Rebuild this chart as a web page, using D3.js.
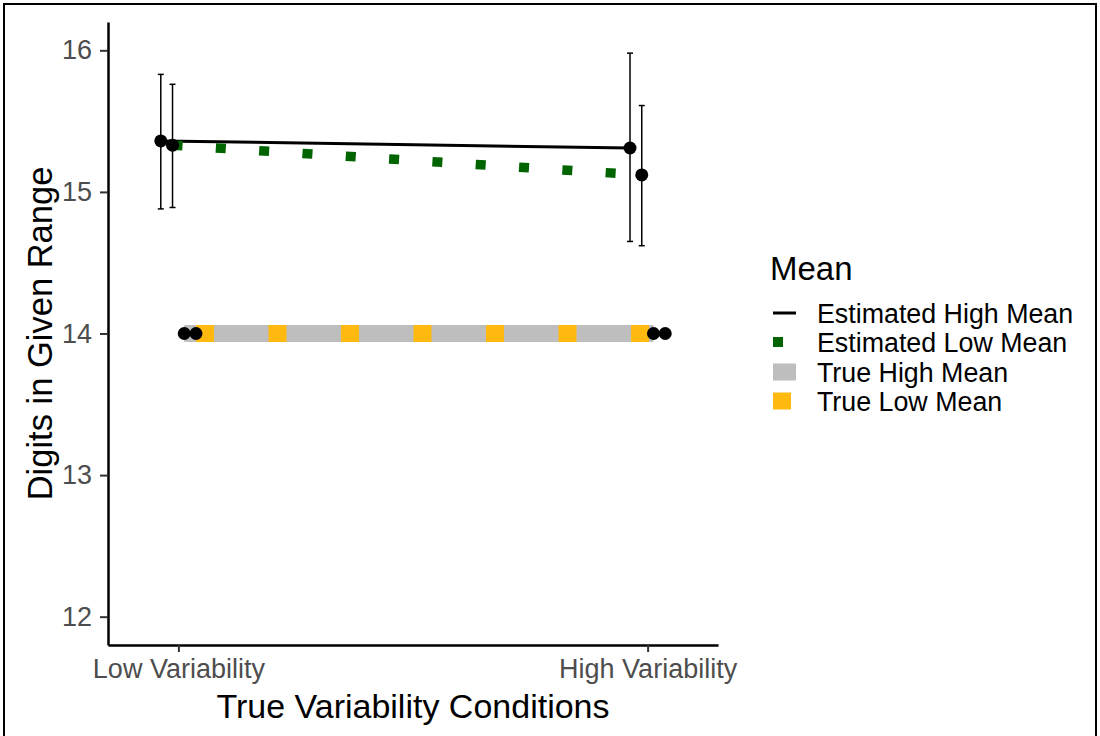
<!DOCTYPE html>
<html>
<head>
<meta charset="utf-8">
<script src="https://cdn.jsdelivr.net/npm/d3@7"></script>
<style>
  body { margin: 0; background: #fff; }
  svg { display: block; font-family: "Liberation Sans", Arial, sans-serif; }
</style>
</head>
<body>
<svg id="chart" width="1100" height="736"></svg>
<script>
// --- data ---
const conditions = [1, 2];
const conditionLabels = ["Low Variability", "High Variability"];
const yTicks = [12, 13, 14, 15, 16];

const seriesNames = ["Estimated High Mean", "Estimated Low Mean", "True High Mean", "True Low Mean"];
const estHighMean = [15.36, 15.31];
const estHighLower = [14.88, 14.65];
const estHighUpper = [15.83, 15.98];
const estLowMean = [15.33, 15.12];
const estLowLower = [14.89, 14.62];
const estLowUpper = [15.76, 15.61];
const trueHighMean = [14, 14];
const trueLowMean = [14, 14];

function drawChart() {
    const svg = d3.select("#chart");

    const plot = { left: 108, right: 718, top: 22, bottom: 645 };

    // outer frame
    svg.append("rect")
        .attr("x", 4).attr("y", 4)
        .attr("width", 1092).attr("height", 740)
        .attr("fill", "none")
        .attr("stroke", "#000")
        .attr("stroke-width", 2);

    const x = d3.scaleLinear().domain([0.85, 2.15]).range([plot.left, plot.right]);
    const y = d3.scaleLinear().domain([11.8, 16.2]).range([plot.bottom, plot.top]);

    // dodge offsets for the four groups
    const dodge = d3.scalePoint().domain(seriesNames).range([-0.0375, 0.0375]);

    const series = [
        { name: seriesNames[0], mean: estHighMean, lo: estHighLower, hi: estHighUpper,
          color: "#000", width: 3, dash: null },
        { name: seriesNames[1], mean: estLowMean, lo: estLowLower, hi: estLowUpper,
          color: "#006400", width: 9.5, dash: "10 33.4" },
        { name: seriesNames[2], mean: trueHighMean, color: "#BEBEBE", width: 17, dash: null },
        { name: seriesNames[3], mean: trueLowMean, color: "#FFB90F", width: 17, dash: "18 54.5" }
    ];

    series.forEach(s => {
        s.points = conditions.map((c, i) => ({ x: c + dodge(s.name), y: s.mean[i], lo: s.lo ? s.lo[i] : null, hi: s.hi ? s.hi[i] : null }));
    });

    const line = d3.line().x(d => x(d.x)).y(d => y(d.y));

    // lines
    svg.append("g").selectAll("path")
        .data(series)
        .enter()
        .append("path")
        .attr("d", d => line(d.points))
        .attr("fill", "none")
        .attr("stroke", d => d.color)
        .attr("stroke-width", d => d.width)
        .attr("stroke-dasharray", d => d.dash);

    // error bars
    const errData = series.filter(s => s.lo).flatMap(s => s.points);
    const eb = svg.append("g").attr("stroke", "#000").attr("stroke-width", 1.5);
    eb.selectAll(".ev").data(errData).enter().append("line")
        .attr("x1", d => x(d.x)).attr("x2", d => x(d.x))
        .attr("y1", d => y(d.lo)).attr("y2", d => y(d.hi));
    eb.selectAll(".ct").data(errData).enter().append("line")
        .attr("x1", d => x(d.x) - 3).attr("x2", d => x(d.x) + 3)
        .attr("y1", d => y(d.hi)).attr("y2", d => y(d.hi));
    eb.selectAll(".cb").data(errData).enter().append("line")
        .attr("x1", d => x(d.x) - 3).attr("x2", d => x(d.x) + 3)
        .attr("y1", d => y(d.lo)).attr("y2", d => y(d.lo));

    // points
    svg.append("g").selectAll("circle")
        .data(series.flatMap(s => s.points))
        .enter()
        .append("circle")
        .attr("cx", d => x(d.x))
        .attr("cy", d => y(d.y))
        .attr("r", 6.5)
        .attr("fill", "#000");

    // axes
    const yAxis = d3.axisLeft(y).tickValues(yTicks).tickFormat(d3.format("d"))
        .tickSize(8).tickSizeOuter(0).tickPadding(8);
    const xAxis = d3.axisBottom(x).tickValues(conditions)
        .tickFormat((d, i) => conditionLabels[i]).tickSize(7).tickSizeOuter(0).tickPadding(7);

    const gy = svg.append("g").attr("transform", `translate(${plot.left},0)`).call(yAxis);
    const gx = svg.append("g").attr("transform", `translate(0,${plot.bottom})`).call(xAxis);

    [gx, gy].forEach(g => {
        g.select(".domain").attr("stroke", "#000").attr("stroke-width", 2.5);
        g.selectAll(".tick line").attr("stroke", "#333").attr("stroke-width", 2);
        g.selectAll(".tick text")
            .attr("fill", "#4D4D4D")
            .style("font-size", "27px")
            .style("font-family", "'Liberation Sans', Arial, sans-serif");
    });

    // axis titles
    svg.append("text")
        .attr("x", (plot.left + plot.right) / 2)
        .attr("y", 718)
        .attr("text-anchor", "middle")
        .style("font-size", "34px")
        .text("True Variability Conditions");

    svg.append("text")
        .attr("transform", `translate(52,${(plot.top + plot.bottom) / 2}) rotate(-90)`)
        .attr("text-anchor", "middle")
        .style("font-size", "34.5px")
        .text("Digits in Given Range");

    // legend
    const legend = svg.append("g").attr("transform", "translate(770,0)");
    legend.append("text")
        .attr("x", 0).attr("y", 280)
        .style("font-size", "33px")
        .text("Mean");

    const rowY = [313, 342, 372, 401];
    const keys = legend.selectAll(".key")
        .data(series)
        .enter()
        .append("g")
        .attr("transform", (d, i) => `translate(0,${rowY[i]})`);

    keys.each(function(d, i) {
        const g = d3.select(this);
        if (i === 0) {
            g.append("line").attr("x1", 3).attr("x2", 26).attr("y1", 0).attr("y2", 0)
                .attr("stroke", d.color).attr("stroke-width", 3);
        } else if (i === 1) {
            g.append("rect").attr("x", 3).attr("y", -5).attr("width", 10).attr("height", 10)
                .attr("fill", d.color);
        } else if (i === 2) {
            g.append("rect").attr("x", 3).attr("y", -8.5).attr("width", 23).attr("height", 17)
                .attr("fill", d.color);
        } else {
            g.append("rect").attr("x", 3).attr("y", -8.5).attr("width", 18).attr("height", 17)
                .attr("fill", d.color);
        }
        g.append("text")
            .attr("x", 47)
            .attr("y", 0)
            .attr("dy", "0.36em")
            .style("font-size", "26.8px")
            .text(d.name);
    });
}

drawChart();
</script>
</body>
</html>
